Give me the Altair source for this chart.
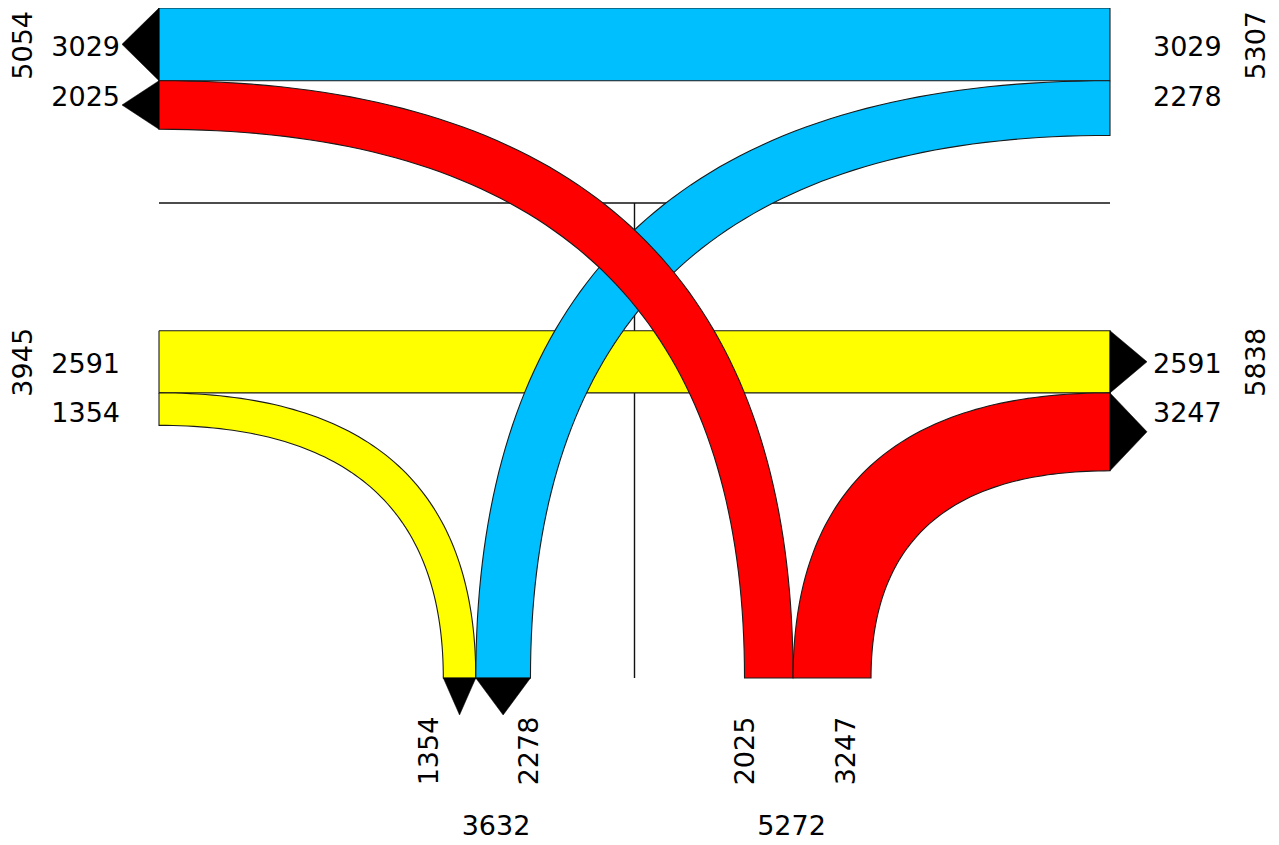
import altair as alt
import numpy as np
import pandas as pd

# ---------------- data: turning-movement volumes ----------------
movements = ["east_thru", "east_left", "south_left", "south_right", "west_thru", "west_right"]
volumes = [3029, 2278, 2025, 3247, 2591, 1354]
colours = ["#00BFFF", "#00BFFF", "#FF0000", "#FF0000", "#FFFF00", "#FFFF00"]

# approach totals shown on the diagram
total_names = ["west_out", "east_in", "west_in", "east_out", "south_out", "south_in"]
total_values = [5054, 5307, 3945, 5838, 3632, 5272]

V = dict(zip(movements, volumes))
C = dict(zip(movements, colours))
T = dict(zip(total_names, total_values))

# ---------------- layout ----------------
K = 0.024            # px per vehicle
XL, XR = 159.0, 1110.0
YT, YB = 8.0, 678.0
Y_EB = 330.7         # top of eastbound carriageway
X_SB = 443.3         # left edge of southbound lanes
X_NB = 744.5         # left edge of northbound lanes
Y_MED = 203.0
X_MED = (XL + XR) / 2
ARR = 37.0
W, H = 1263, 832

w = {m: V[m] * K for m in movements}

y_et = (YT, YT + w["east_thru"])
y_sl = (y_et[1], y_et[1] + w["south_left"])     # at west edge
y_el = (y_et[1], y_et[1] + w["east_left"])      # at east edge
y_wt = (Y_EB, Y_EB + w["west_thru"])
y_wr = (y_wt[1], y_wt[1] + w["west_right"])     # at west edge
y_sr = (y_wt[1], y_wt[1] + w["south_right"])    # at east edge
x_wr = (X_SB, X_SB + w["west_right"])
x_el = (x_wr[1], x_wr[1] + w["east_left"])
x_sl = (X_NB, X_NB + w["south_left"])
x_sr = (x_sl[1], x_sl[1] + w["south_right"])


def bez(p0, k, p2, n=80):
    t = np.linspace(0, 1, n)
    x = (1 - t) ** 2 * p0[0] + 2 * (1 - t) * t * k[0] + t ** 2 * p2[0]
    y = (1 - t) ** 2 * p0[1] + 2 * (1 - t) * t * k[1] + t ** 2 * p2[1]
    return list(zip(x, y))


def rect(x0, x1, y0, y1):
    return [(x0, y0), (x1, y0), (x1, y1), (x0, y1), (x0, y0)]


def curve(side_x, ys, xs, side):
    if side == "left":
        (yo, xo), (yi, xi) = (ys[0], xs[1]), (ys[1], xs[0])
    else:
        (yo, xo), (yi, xi) = (ys[0], xs[0]), (ys[1], xs[1])
    e1 = bez((side_x, yo), (xo, yo), (xo, YB))
    e2 = bez((side_x, yi), (xi, yi), (xi, YB))
    return e1 + e2[::-1] + [e1[0]]


def arrow_h(xb, ys, d):
    m = (ys[0] + ys[1]) / 2
    return [(xb, ys[0]), (xb + d * ARR, m), (xb, ys[1]), (xb, ys[0])]


def arrow_v(xs):
    m = (xs[0] + xs[1]) / 2
    return [(xs[0], YB), (m, YB + ARR), (xs[1], YB), (xs[0], YB)]


shapes = [
    ("west_thru", "yellow", rect(XL, XR, *y_wt)),
    ("west_right", "yellow", curve(XL, y_wr, x_wr, "left")),
    ("east_thru", "blue", rect(XL, XR, *y_et)),
    ("east_left", "blue", curve(XR, y_el, x_el, "right")),
    ("south_left", "red", curve(XL, y_sl, x_sl, "left")),
    ("south_right", "red", curve(XR, y_sr, x_sr, "right")),
    ("a1", "arrow", arrow_h(XL, y_et, -1)),
    ("a2", "arrow", arrow_h(XL, y_sl, -1)),
    ("a3", "arrow", arrow_h(XR, y_wt, 1)),
    ("a4", "arrow", arrow_h(XR, y_sr, 1)),
    ("a5", "arrow", arrow_v(x_wr)),
    ("a6", "arrow", arrow_v(x_el)),
]
rows = []
for sid, grp, pts in shapes:
    for i, (x, y) in enumerate(pts):
        rows.append({"sid": sid, "grp": grp, "i": i, "x": x, "y": y})
poly = pd.DataFrame(rows)

med = pd.DataFrame([
    {"sid": "h", "i": 0, "x": XL, "y": Y_MED}, {"sid": "h", "i": 1, "x": XR, "y": Y_MED},
    {"sid": "v", "i": 0, "x": X_MED, "y": Y_MED}, {"sid": "v", "i": 1, "x": X_MED, "y": YB},
])

X = alt.X("x:Q", scale=alt.Scale(domain=[8, 8 + W], nice=False, zero=False), axis=None)
Y = alt.Y("y:Q", scale=alt.Scale(domain=[8, 8 + H], nice=False, zero=False, reverse=True), axis=None)

layers = [
    alt.Chart(med).mark_line(color="#111111", strokeWidth=1.4).encode(
        x=X, y=Y, detail="sid:N", order="i:Q")
]
fills = {"yellow": C["west_thru"], "blue": C["east_thru"], "red": C["south_left"], "arrow": "#000000"}
for g in ["yellow", "blue", "red", "arrow"]:
    layers.append(
        alt.Chart(poly).transform_filter(alt.datum.grp == g).mark_line(
            fill=fills[g], stroke="#1a1a1a" if g != "arrow" else "#000000",
            strokeWidth=1.1 if g != "arrow" else 0.5, strokeJoin="miter", interpolate="linear"
        ).encode(x=X, y=Y, detail="sid:N", order="i:Q")
    )

FS = 27
FONT = "DejaVu Sans"

def mid(r):
    return (r[0] + r[1]) / 2

lane_left = pd.DataFrame([
    {"x": XL - 39, "y": mid(y_et) + 12.0, "t": str(V["east_thru"])},
    {"x": XL - 39, "y": mid(y_et) + 61.5, "t": str(V["south_left"])},
    {"x": XL - 39, "y": mid(y_wt) + 11.0, "t": str(V["west_thru"])},
    {"x": XL - 39, "y": mid(y_wt) + 60.5, "t": str(V["west_right"])},
])
lane_right = pd.DataFrame([
    {"x": XR + 43, "y": mid(y_et) + 12.0, "t": str(V["east_thru"])},
    {"x": XR + 43, "y": mid(y_et) + 61.5, "t": str(V["east_left"])},
    {"x": XR + 43, "y": mid(y_wt) + 11.0, "t": str(V["west_thru"])},
    {"x": XR + 43, "y": mid(y_wt) + 60.5, "t": str(V["south_right"])},
])
rot = pd.DataFrame([
    {"x": 32.0, "y": mid(y_et) + 1, "t": str(T["west_out"])},
    {"x": 32.0, "y": mid(y_wt) + 0.5, "t": str(T["west_in"])},
    {"x": 1265.0, "y": mid(y_et) + 1, "t": str(T["east_in"])},
    {"x": 1265.0, "y": mid(y_wt) + 0.5, "t": str(T["east_out"])},
    {"x": 437.5, "y": 751.0, "t": str(V["west_right"])},
    {"x": 537.5, "y": 751.0, "t": str(V["east_left"])},
    {"x": 754.0, "y": 751.0, "t": str(V["south_left"])},
    {"x": 855.0, "y": 751.0, "t": str(V["south_right"])},
])
bottom = pd.DataFrame([
    {"x": 496.0, "y": 835.0, "t": str(T["south_out"])},
    {"x": 791.5, "y": 835.0, "t": str(T["south_in"])},
])

def txt(df, **kw):
    return alt.Chart(df).mark_text(font=FONT, fontSize=FS, color="#000000",
                                   baseline="alphabetic", **kw).encode(x=X, y=Y, text="t:N")

layers += [
    txt(lane_left, align="right"),
    txt(lane_right, align="left"),
    txt(rot, align="center", angle=270),
    txt(bottom, align="center"),
]

chart = alt.layer(*layers).properties(
    width=W, height=H, padding=0, autosize=alt.AutoSizeParams(type="none"),
    background="#ffffff"
).configure_view(stroke=None)

chart.save("out.html", embed_options={"renderer": "svg", "actions": False})
